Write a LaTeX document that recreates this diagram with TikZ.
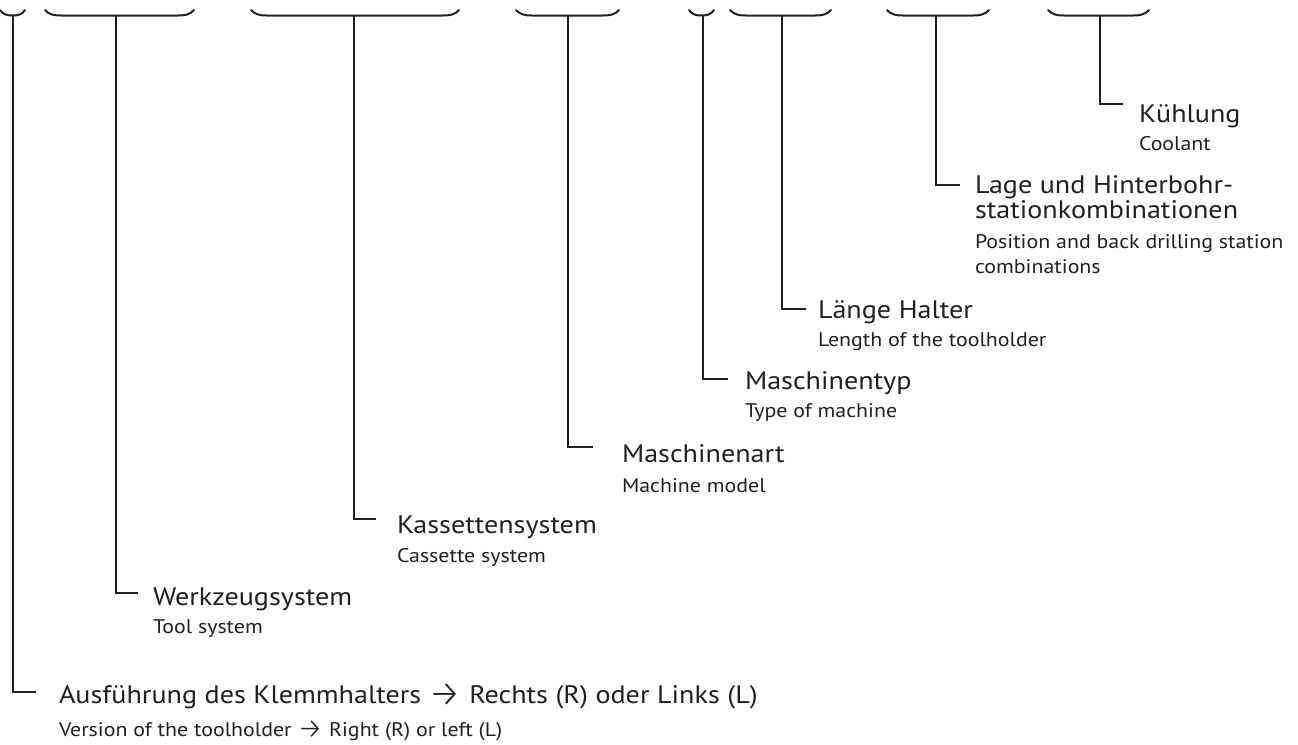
\documentclass[tikz,border=0pt]{standalone}
\usepackage{fontspec}
\setmainfont[FakeStretch=1.11]{PT Sans}
\newfontfamily\arrowfont{Fira Sans Light}
\definecolor{ink}{HTML}{231F20}
\newcommand\mybrace[3]{% x0, x1, r
  \draw[brace] (#1,10) .. controls ({#1+0.25*#3},14.5) and ({#1+0.55*#3},15.5) .. ({#1+#3},15.5)
    -- ({#2-#3},15.5) .. controls ({#2-0.55*#3},15.5) and ({#2-0.25*#3},14.5) .. (#2,10);}
\newcommand\myarrow{\raisebox{-0.12em}[\height][0pt]{\scalebox{1.45}{\arrowfont →}}}
\begin{document}
\begin{tikzpicture}[x=0.75pt,y=-0.75pt,
  conn/.style={draw=ink,line width=1.5pt},
  brace/.style={draw=ink,line width=1.5pt,line cap=round},
  head/.style={anchor=base west,inner sep=0pt,outer sep=0pt,text=ink,font=\fontsize{19}{23}\selectfont},
  sub/.style={anchor=base west,inner sep=0pt,outer sep=0pt,text=ink,font=\fontsize{14.8}{18}\selectfont}]
\useasboundingbox (0,0) rectangle (1298,744);

% braces
\mybrace{0}{25}{12.5}
\mybrace{45}{194}{16}
\mybrace{251}{459}{16}
\mybrace{516}{619}{16}
\mybrace{689}{714}{12.5}
\mybrace{730}{831}{16}
\mybrace{887}{989}{16}
\mybrace{1048}{1149}{16}

% stem start points
\coordinate (b1) at (13,15.5);
\coordinate (b2) at (116,15.5);
\coordinate (b3) at (354,15.5);
\coordinate (b4) at (568,15.5);
\coordinate (b5) at (703,15.5);
\coordinate (b6) at (782,15.5);
\coordinate (b7) at (936,15.5);
\coordinate (b8) at (1100,15.5);

% connector ends
\coordinate (e1) at (36,692);
\coordinate (e2) at (138,593);
\coordinate (e3) at (376,519);
\coordinate (e4) at (593,447);
\coordinate (e5) at (728,379);
\coordinate (e6) at (806,309);
\coordinate (e7) at (960,185);
\coordinate (e8) at (1123,104);

% texts
\node[head] (t1) at (59,703) {Ausführung des Klemmhalters \myarrow{} Rechts (R) oder Links (L)};
\node[sub]  (s1) at (59,736) {Version of the toolholder \myarrow{} Right (R) or left (L)};
\node[head] (t2) at (153,605) {Werkzeugsystem};
\node[sub]  (s2) at (153,633) {Tool system};
\node[head] (t3) at (397,533) {Kassettensystem};
\node[sub]  (s3) at (397,562) {Cassette system};
\node[head] (t4) at (622,462) {Maschinenart};
\node[sub]  (s4) at (622,492) {Machine model};
\node[head] (t5) at (745,389) {Maschinentyp};
\node[sub]  (s5) at (745,417) {Type of machine};
\node[head] (t6) at (818,318) {Länge Halter};
\node[sub]  (s6) at (818,346) {Length of the toolholder};
\node[head] (t7a) at (975,193) {Lage und Hinterbohr-};
\node[head] (t7b) at (975,218) {stationkombinationen};
\node[sub]  (s7a) at (975,248) {Position and back drilling station};
\node[sub]  (s7b) at (975,273) {combinations};
\node[head] (t8) at (1139,122) {Kühlung};
\node[sub]  (s8) at (1139,150) {Coolant};

% connectors
\foreach \i in {1,...,8} {\draw[conn] (b\i) |- (e\i);}
\end{tikzpicture}
\end{document}
